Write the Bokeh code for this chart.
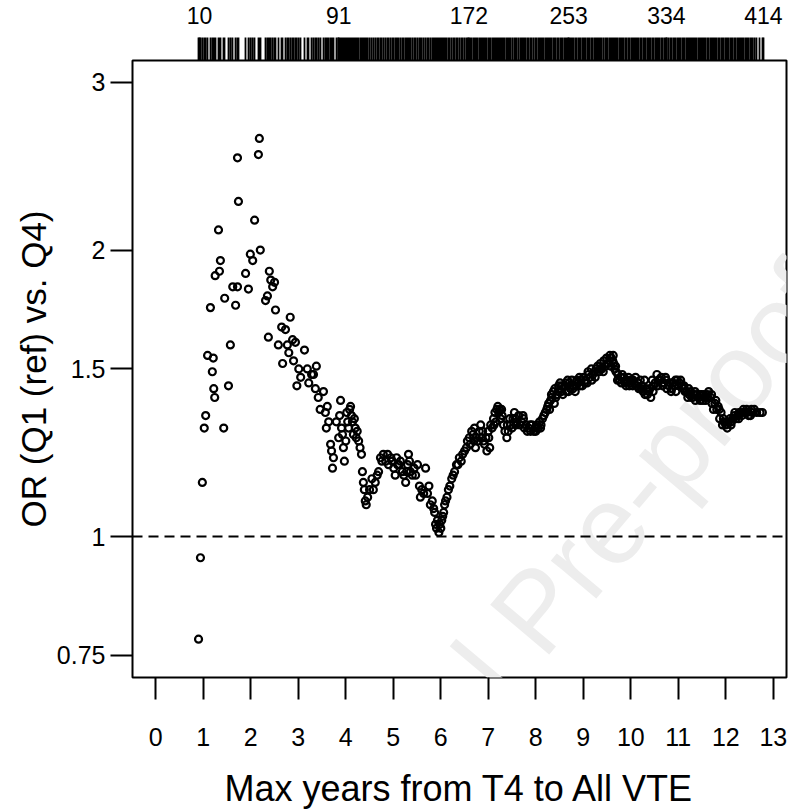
from bokeh.plotting import figure
from bokeh.models import Range1d, FixedTicker, LinearAxis, Span, Label, CustomJSTickFormatter
from bokeh.embed import file_html
from bokeh.resources import INLINE

# ---- data ----
x_early = [0.90, 0.94, 0.98, 1.02, 1.05, 1.09, 1.15, 1.19, 1.21, 1.22, 1.24, 1.25, 1.32, 1.34, 1.36,
           1.43, 1.45, 1.53, 1.57, 1.62, 1.68, 1.72, 1.74, 1.72, 1.89, 1.95, 1.99, 2.04, 2.08, 2.16,
           2.18, 2.20, 2.31, 2.35, 2.37, 2.39, 2.42, 2.46, 2.50, 2.52, 2.58, 2.65, 2.67, 2.73, 2.77,
           2.83, 2.80, 2.88, 2.90, 2.94, 2.97, 3.01, 3.05, 3.13, 3.19, 3.22, 3.28, 3.32, 3.38, 3.36,
           3.42, 3.46, 3.53, 3.57, 3.61, 3.59, 3.64, 3.68, 3.70, 3.72, 3.74, 3.80]
or_early = [0.78, 0.95, 1.14, 1.30, 1.34, 1.55, 1.74, 1.49, 1.54, 1.43, 1.40, 1.88, 2.10, 1.90, 1.95,
            1.30, 1.78, 1.44, 1.59, 1.83, 1.75, 2.50, 2.25, 1.83, 1.89, 1.82, 1.98, 1.95, 2.15, 2.52,
            2.62, 2.00, 1.77, 1.79, 1.62, 1.90, 1.86, 1.83, 1.85, 1.73, 1.59, 1.66, 1.52, 1.65, 1.59,
            1.70, 1.56, 1.61, 1.53, 1.60, 1.44, 1.50, 1.47, 1.57, 1.50, 1.45, 1.48, 1.48, 1.51, 1.43,
            1.40, 1.36, 1.42, 1.35, 1.37, 1.30, 1.32, 1.25, 1.23, 1.18, 1.21, 1.32]

x_mid = [3.85, 3.87, 3.89, 3.91, 3.93, 3.95, 3.97, 4.00, 4.02, 4.04, 4.06, 4.08, 4.10, 4.12, 4.14,
         4.16, 4.18, 4.20, 4.22, 4.24, 4.27, 4.30, 4.33, 4.35, 4.37, 4.39, 4.41, 4.43, 4.46, 4.50,
         4.55, 4.58, 4.62, 4.66, 4.69, 4.73, 4.76, 4.79, 4.84, 4.88, 4.90, 4.95, 4.98, 5.01, 5.04,
         5.07, 5.09, 5.12, 5.15, 5.19, 5.22, 5.26, 5.28, 5.30, 5.32, 5.34, 5.36, 5.40, 5.44, 5.47,
         5.51, 5.55, 5.57, 5.60, 5.64, 5.68, 5.72, 5.75, 5.78, 5.82, 5.85, 5.87, 5.89, 5.91, 5.93,
         5.96, 5.98, 6.00, 6.02, 6.04, 6.06, 6.08, 6.10, 6.13, 6.16, 6.19, 6.23, 6.26, 6.29, 6.33,
         6.36, 6.39, 6.43, 6.46, 6.50, 6.54, 6.56]
or_mid = [1.27, 1.34, 1.39, 1.30, 1.28, 1.24, 1.20, 1.26, 1.35, 1.32, 1.30, 1.36, 1.37, 1.34, 1.32,
          1.28, 1.33, 1.30, 1.27, 1.29, 1.26, 1.24, 1.22, 1.17, 1.14, 1.12, 1.09, 1.08, 1.10, 1.12,
          1.15, 1.12, 1.14, 1.16, 1.17, 1.21, 1.20, 1.22, 1.20, 1.22, 1.19, 1.21, 1.20, 1.18, 1.16,
          1.21, 1.19, 1.19, 1.20, 1.17, 1.16, 1.14, 1.17, 1.19, 1.22, 1.20, 1.17, 1.16, 1.18, 1.16,
          1.19, 1.13, 1.10, 1.12, 1.11, 1.18, 1.11, 1.13, 1.08, 1.09, 1.07, 1.06, 1.03, 1.02, 1.04,
          1.01, 1.03, 1.02, 1.04, 1.05, 1.06, 1.08, 1.09, 1.10, 1.12, 1.13, 1.15, 1.16, 1.17, 1.19,
          1.19, 1.21, 1.20, 1.22, 1.23, 1.24, 1.26]

x_late = [6.60, 6.62, 6.65, 6.68, 6.71, 6.73, 6.75, 6.78, 6.81, 6.84, 6.88, 6.90, 6.92, 6.95, 6.97,
          7.01, 7.03, 7.05, 7.08, 7.11, 7.14, 7.16, 7.18, 7.20, 7.22, 7.24, 7.26, 7.29, 7.32, 7.35,
          7.39, 7.42, 7.45, 7.47, 7.50, 7.52, 7.55, 7.57, 7.60, 7.64, 7.67, 7.70, 7.73, 7.76, 7.79,
          7.82, 7.85, 7.89, 7.92, 7.96, 7.99, 8.02, 8.05, 8.08, 8.11, 8.14, 8.17, 8.20, 8.23, 8.27,
          8.29, 8.31, 8.34, 8.37, 8.40, 8.42, 8.45, 8.48, 8.51, 8.54, 8.57, 8.61, 8.64, 8.67, 8.70,
          8.73, 8.76, 8.80, 8.83, 8.86, 8.89, 8.92, 8.95, 8.98, 9.01, 9.05, 9.08, 9.11, 9.14, 9.17,
          9.20, 9.24, 9.27, 9.30, 9.33, 9.36, 9.39, 9.43, 9.46, 9.49, 9.52, 9.56, 9.59, 9.62, 9.64,
          9.66, 9.69, 9.73, 9.76, 9.79, 9.82, 9.85, 9.88, 9.92, 9.95, 9.98, 10.01, 10.04, 10.07, 10.10,
          10.13, 10.17, 10.20, 10.23, 10.26, 10.29, 10.32, 10.35, 10.38, 10.42, 10.45, 10.48, 10.51, 10.55, 10.58,
          10.61, 10.64, 10.67, 10.70, 10.73, 10.76, 10.80, 10.83, 10.86, 10.89, 10.92, 10.95, 10.98, 11.01, 11.05,
          11.08, 11.11, 11.14, 11.18, 11.20, 11.23, 11.26, 11.30, 11.33, 11.36, 11.39, 11.43, 11.46, 11.49, 11.52,
          11.56, 11.58, 11.61, 11.64, 11.68, 11.71, 11.74, 11.77, 11.81, 11.84, 11.87, 11.90, 11.93, 11.96, 12.00,
          12.03, 12.06, 12.09, 12.12, 12.15, 12.18, 12.21, 12.25, 12.28, 12.31, 12.34, 12.37, 12.41, 12.45, 12.48,
          12.52, 12.56, 12.60, 12.65, 12.77]
or_late = [1.27, 1.25, 1.29, 1.28, 1.30, 1.24, 1.27, 1.26, 1.29, 1.31, 1.29, 1.26, 1.25, 1.27, 1.23,
           1.27, 1.24, 1.31, 1.30, 1.33, 1.35, 1.32, 1.36, 1.37, 1.35, 1.36, 1.33, 1.34, 1.31, 1.29,
           1.27, 1.29, 1.33, 1.31, 1.30, 1.33, 1.35, 1.33, 1.32, 1.34, 1.31, 1.32, 1.34, 1.30, 1.31,
           1.29, 1.30, 1.29, 1.31, 1.29, 1.30, 1.31, 1.30, 1.32, 1.31, 1.33, 1.34, 1.35, 1.36, 1.38,
           1.36, 1.39, 1.40, 1.42, 1.43, 1.40, 1.41, 1.44, 1.45, 1.42, 1.41, 1.44, 1.42, 1.46, 1.45,
           1.43, 1.46, 1.44, 1.42, 1.46, 1.45, 1.47, 1.46, 1.44, 1.47, 1.46, 1.45, 1.48, 1.47, 1.50,
           1.48, 1.49, 1.50, 1.51, 1.49, 1.52, 1.50, 1.53, 1.51, 1.54, 1.52, 1.55, 1.54, 1.53, 1.52,
           1.50, 1.49, 1.48, 1.46, 1.47, 1.48, 1.47, 1.45, 1.46, 1.47, 1.45, 1.46, 1.44, 1.45, 1.47,
           1.44, 1.43, 1.46, 1.44, 1.42, 1.46, 1.43, 1.41, 1.42, 1.40, 1.46, 1.44, 1.45, 1.48, 1.46,
           1.46, 1.47, 1.44, 1.45, 1.47, 1.43, 1.44, 1.45, 1.43, 1.45, 1.44, 1.42, 1.46, 1.44, 1.46,
           1.44, 1.43, 1.42, 1.42, 1.40, 1.41, 1.42, 1.40, 1.41, 1.39, 1.41, 1.40, 1.39, 1.41, 1.39,
           1.40, 1.39, 1.41, 1.42, 1.40, 1.38, 1.36, 1.38, 1.36, 1.37, 1.33, 1.35, 1.31, 1.32, 1.31,
           1.30, 1.32, 1.33, 1.32, 1.33, 1.34, 1.33, 1.34, 1.35, 1.35, 1.34, 1.36, 1.35, 1.35, 1.34,
           1.34, 1.35, 1.36, 1.35, 1.35]

x_extra = [6.70, 6.86, 7.00, 7.12, 7.28, 7.40, 7.58, 7.74, 7.88, 8.00, 8.10,
           8.25, 8.33, 8.39, 8.47, 8.55, 8.63, 8.69, 8.78, 8.85, 8.93, 9.03, 9.10, 9.18, 9.25,
           9.35, 9.42, 9.50, 9.58, 9.63, 9.68, 9.72, 9.80, 9.90, 9.97, 10.05, 10.15, 10.22, 10.30,
           10.40, 10.47, 10.57, 10.66, 10.74, 10.85, 10.94, 11.03, 11.12, 11.22, 11.28, 11.35, 11.45,
           11.54, 11.62, 11.70, 11.79, 11.86, 11.95, 12.02, 12.11, 12.19, 12.27, 12.36, 12.44, 12.54,
           12.72]
or_extra = [1.26, 1.27, 1.29, 1.31, 1.36, 1.31, 1.31, 1.33, 1.31, 1.29, 1.30,
            1.37, 1.41, 1.38, 1.42, 1.44, 1.45, 1.42, 1.43, 1.44, 1.44, 1.45, 1.49, 1.46, 1.47,
            1.50, 1.49, 1.52, 1.51, 1.55, 1.51, 1.46, 1.45, 1.44, 1.44, 1.46, 1.45, 1.43, 1.41,
            1.43, 1.42, 1.44, 1.45, 1.46, 1.42, 1.46, 1.45, 1.44, 1.43, 1.40, 1.42, 1.41,
            1.41, 1.40, 1.41, 1.39, 1.36, 1.33, 1.32, 1.31, 1.35, 1.33, 1.35, 1.36, 1.36,
            1.35]

x_years = x_early + x_mid + x_late + x_extra
odds_ratio = or_early + or_mid + or_late + or_extra

x_ticks = list(range(14))
y_ticks = [0.75, 1, 1.5, 2, 3]
top_positions = [0.92, 3.85, 6.59, 8.69, 10.75, 12.79]
top_labels = ["10", "91", "172", "253", "334", "414"]
reference_or = 1
watermark = "Journal Pre-proof"

FONT = "Liberation Sans"

p = figure(width=790, height=811, output_backend="svg", toolbar_location=None,
           x_range=Range1d(-0.4905, 13.278), y_range=Range1d(0.711, 3.164),
           y_axis_type="log",
           min_border_left=132, min_border_right=4, min_border_top=60, min_border_bottom=134)
p.background_fill_color = "white"
p.border_fill_color = "white"
p.outline_line_color = "black"
p.outline_line_width = 2
p.xgrid.visible = False
p.ygrid.visible = False

# watermark
p.add_layout(Label(x=8.0, y=0.836, text=watermark, angle=0.87, text_font=FONT,
                   text_font_size="112px", text_color="#ededed", text_align="center",
                   text_baseline="middle", level="underlay"))

# bottom axis
xa = p.xaxis[0]
xa.ticker = FixedTicker(ticks=x_ticks)
xa.axis_line_color = None
xa.major_tick_in = 0
xa.major_tick_out = 22
xa.major_tick_line_width = 2
xa.minor_tick_line_color = None
xa.major_label_text_font = FONT
xa.major_label_text_font_size = "25px"
xa.major_label_text_color = "black"
xa.major_label_standoff = 28
xa.axis_label = "Max years from T4 to All VTE"
xa.axis_label_text_font = FONT
xa.axis_label_text_font_size = "36px"
xa.axis_label_text_font_style = "normal"
xa.axis_label_text_color = "black"
xa.axis_label_standoff = 19

# left axis
ya = p.yaxis[0]
ya.ticker = FixedTicker(ticks=y_ticks)
ya.formatter = CustomJSTickFormatter(code="return tick.toString();")
ya.axis_line_color = None
ya.major_tick_in = 0
ya.major_tick_out = 22
ya.major_tick_line_width = 2
ya.minor_tick_line_color = None
ya.major_label_text_font = FONT
ya.major_label_text_font_size = "25px"
ya.major_label_text_color = "black"
ya.major_label_standoff = 5
ya.axis_label = "OR (Q1 (ref) vs. Q4)"
ya.axis_label_text_font = FONT
ya.axis_label_text_font_size = "35px"
ya.axis_label_text_font_style = "normal"
ya.axis_label_text_color = "black"
ya.axis_label_standoff = 1

# top axis: rug of event times (minor ticks) + event-count labels
top = LinearAxis(ticker=FixedTicker(ticks=top_positions, minor_ticks=sorted(x_years)),
                 axis_line_color=None,
                 major_tick_in=0, major_tick_out=23, major_tick_line_width=1.8,
                 minor_tick_in=0, minor_tick_out=23, minor_tick_line_width=1.8,
                 minor_tick_line_color="black", major_tick_line_color="black",
                 formatter=CustomJSTickFormatter(args=dict(pos=top_positions, labs=top_labels),
                                                 code="const i = pos.indexOf(tick); return i >= 0 ? labs[i] : '';"),
                 major_label_text_font=FONT, major_label_text_font_size="23px",
                 major_label_text_color="black", major_label_standoff=14)
p.add_layout(top, "above")

p.add_layout(Span(location=reference_or, dimension="width", line_color="black",
                  line_width=2, line_dash="10 6"))

p.scatter(x_years, odds_ratio, marker="circle", size=7, fill_color=None,
          line_color="black", line_width=2.2)

open("out.html", "w").write(file_html(p, INLINE))
